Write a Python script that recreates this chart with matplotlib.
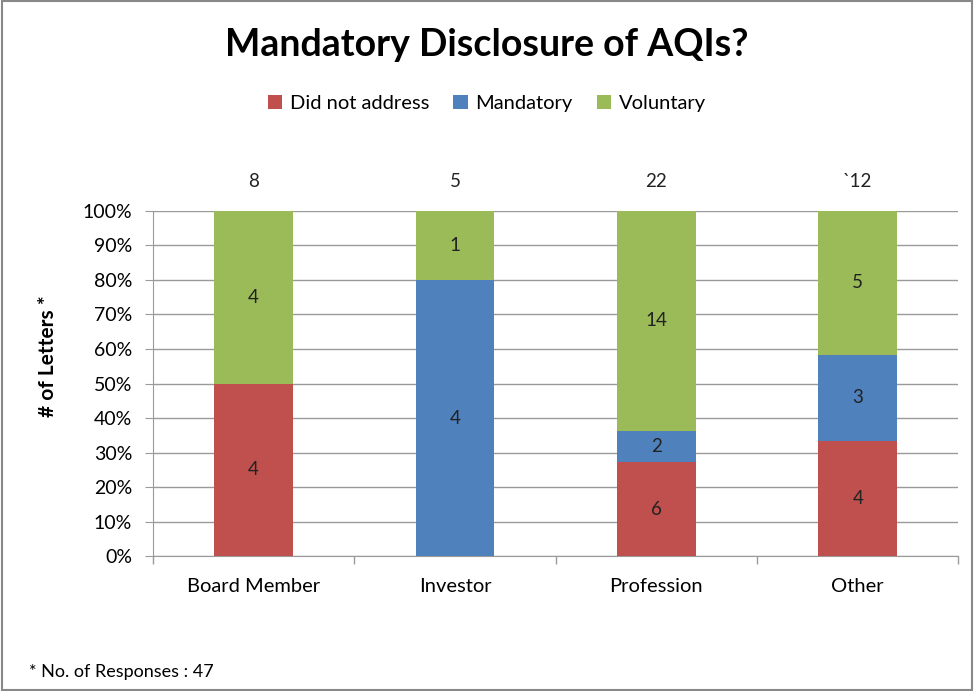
import numpy as np
import matplotlib.pyplot as plt
from matplotlib.ticker import PercentFormatter

plt.rcParams['font.family'] = ['Lato', 'DejaVu Sans']

# Data
categories = ['Board Member', 'Investor', 'Profession', 'Other']
did_not_address = [4, 0, 6, 4]
mandatory = [0, 4, 2, 3]
voluntary = [4, 1, 14, 5]
total_labels = ['8', '5', '22', '`12']

series = [
    ('Did not address', did_not_address, '#C0504D'),
    ('Mandatory', mandatory, '#4F81BD'),
    ('Voluntary', voluntary, '#9BBB59'),
]

totals = np.array(did_not_address) + np.array(mandatory) + np.array(voluntary)
x = np.arange(len(categories))

fig = plt.figure(figsize=(9.74, 6.91), dpi=100)
ax = fig.add_axes([0.157, 0.195, 0.827, 0.5])

bottom = np.zeros(len(categories))
for name, vals, color in series:
    vals = np.array(vals)
    share = vals / totals * 100
    ax.bar(x, share, bottom=bottom, width=0.39, color=color, label=name, zorder=3)
    for xi, v, s, b in zip(x, vals, share, bottom):
        if v > 0:
            ax.text(xi, b + s / 2, str(v), ha='center', va='center', fontsize=13.5, color='#222222', zorder=4)
    bottom += share

for xi, t in zip(x, total_labels):
    ax.text(xi, 106, t, ha='center', va='bottom', fontsize=13.5, color='#222222', clip_on=False)

ax.set_xlim(-0.5, len(categories) - 0.5)
ax.set_ylim(0, 100)
ax.set_yticks(np.arange(0, 101, 10))
ax.yaxis.set_major_formatter(PercentFormatter(decimals=0))
ax.set_xticks(x)
ax.set_xticklabels(categories, fontsize=14.5)
ax.set_xticks(np.arange(-0.5, len(categories), 1), minor=True)
ax.tick_params(axis='x', which='major', length=0, pad=16)
ax.tick_params(axis='x', which='minor', length=6, color='#9a9a9a', width=1)
ax.tick_params(axis='y', length=6, color='#9a9a9a', labelsize=14, pad=9)
ax.grid(axis='y', color='#9a9a9a', linewidth=1, zorder=0)

for side in ['top', 'right']:
    ax.spines[side].set_visible(False)
for side in ['left', 'bottom']:
    ax.spines[side].set_color('#9a9a9a')

# y label sits a bit above the axis middle, as in the original
fig.text(0.049, 0.485, '# of Letters *', rotation=90, ha='center', va='center',
         fontsize=15, fontweight='bold')

fig.text(0.5, 0.935, 'Mandatory Disclosure of AQIs?', ha='center', va='center', fontsize=27, fontweight='bold')
fig.legend(loc='center', bbox_to_anchor=(0.5, 0.85), ncol=3, frameon=False, fontsize=14.5,
           handlelength=0.7, handleheight=0.7, handletextpad=0.4, columnspacing=1.2)
fig.text(0.03, 0.027, '* No. of Responses : 47', ha='left', va='center', fontsize=13)

# outer frame
fig.patches.append(plt.Rectangle((0.002, 0.002), 0.996, 0.996, transform=fig.transFigure,
                                 fill=False, edgecolor='#888888', linewidth=1.5))

fig.savefig('out.png', dpi=100)
